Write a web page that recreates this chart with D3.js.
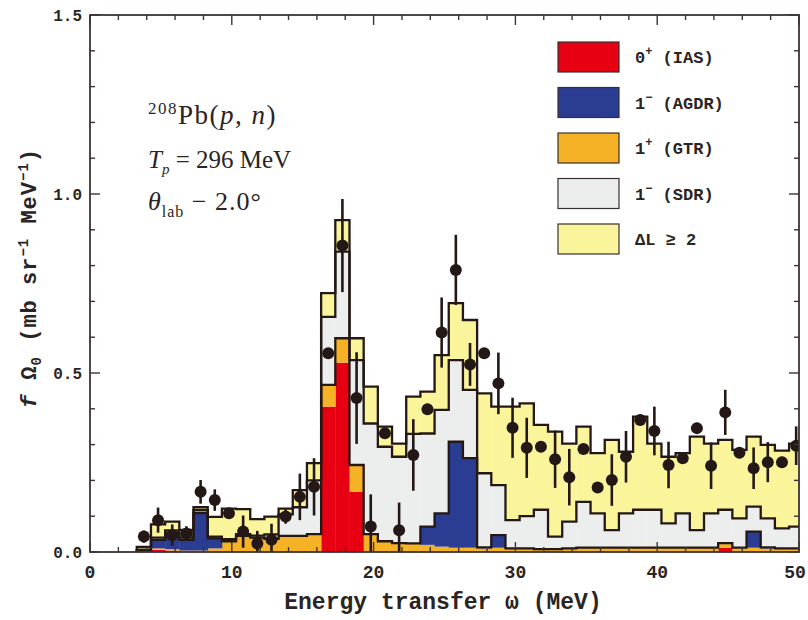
<!DOCTYPE html>
<html>
<head>
<meta charset="utf-8">
<script src="https://cdn.jsdelivr.net/npm/d3@7"></script>
<style>
  body { margin: 0; background: #fff; }
  text { font-family: "Liberation Mono", "DejaVu Sans Mono", monospace; fill: #2a2424; }
  .note { font-family: "Liberation Serif", "DejaVu Serif", serif; }
</style>
</head>
<body>
<script>
// 1 MeV bins, left edges (MeV)
const binStart = [3.3, 4.3, 5.3, 6.3, 7.3, 8.3, 9.3, 10.3, 11.3, 12.3, 13.3, 14.3, 15.3, 16.3, 17.3, 18.3,
  19.3, 20.3, 21.3, 22.3, 23.3, 24.3, 25.3, 26.3, 27.3, 28.3, 29.3, 30.3, 31.3, 32.3, 33.3, 34.3,
  35.3, 36.3, 37.3, 38.3, 39.3, 40.3, 41.3, 42.3, 43.3, 44.3, 45.3, 46.3, 47.3, 48.3, 49.3];

// 各成分 (stacked, bottom to top)
const ias  = [0, 0.006, 0.004, 0, 0, 0, 0, 0, 0, 0, 0, 0, 0, 0.406, 0.529, 0.168,
  0, 0, 0, 0, 0, 0, 0, 0, 0, 0, 0, 0, 0, 0, 0, 0,
  0, 0, 0, 0, 0, 0, 0, 0, 0, 0.012, 0, 0, 0, 0, 0];
const gtr  = [0.004, 0.004, 0.004, 0.004, 0.004, 0.01, 0.03, 0.045, 0.04, 0.037, 0.045, 0.045, 0.05, 0.061, 0.068, 0.075,
  0.05, 0.03, 0.025, 0.024, 0.02, 0.015, 0.012, 0.012, 0.01, 0.012, 0.01, 0.01, 0.008, 0.008, 0.01, 0.012,
  0.012, 0.012, 0.012, 0.012, 0.012, 0.012, 0.012, 0.012, 0.012, 0.013, 0.012, 0.012, 0.01, 0.01, 0.01];
const agdr = [0, 0.024, 0.045, 0.03, 0.105, 0.028, 0, 0, 0, 0, 0, 0, 0, 0, 0, 0,
  0, 0, 0, 0, 0.051, 0.093, 0.296, 0.25, 0.003, 0.035, 0, 0, 0, 0, 0, 0,
  0, 0, 0, 0, 0, 0, 0, 0, 0, 0, 0, 0.045, 0.003, 0, 0];
const sdr  = [0.002, 0.006, 0.007, 0.006, 0.008, 0.005, 0.006, 0.005, 0.006, 0.012, 0.06, 0.08, 0.15, 0.19, 0.242, 0.293,
  0.309, 0.264, 0.241, 0.306, 0.26, 0.289, 0.228, 0.191, 0.207, 0.14, 0.079, 0.09, 0.11, 0.035, 0.075, 0.128,
  0.096, 0.049, 0.096, 0.106, 0.106, 0.068, 0.096, 0.049, 0.096, 0.093, 0.082, 0.07, 0.081, 0.056, 0.061];
const dl2  = [0.008, 0.037, 0.025, 0.022, 0.008, 0.055, 0.085, 0.07, 0.046, 0.05, 0.016, 0.048, 0.048, 0.066, 0.088, 0.061,
  0.103, 0.056, 0.037, 0.104, 0.117, 0.153, 0.159, 0.195, 0.223, 0.219, 0.317, 0.315, 0.237, 0.293, 0.218, 0.21,
  0.168, 0.252, 0.172, 0.26, 0.185, 0.186, 0.168, 0.261, 0.195, 0.195, 0.191, 0.195, 0.205, 0.217, 0.232];

// 实验数据点
const expOmega = [3.8, 4.8, 5.8, 6.8, 7.8, 8.8, 9.8, 10.8, 11.8, 12.8, 13.8, 14.8, 15.8, 16.8, 17.8, 18.8,
  19.8, 20.8, 21.8, 22.8, 23.8, 24.8, 25.8, 26.8, 27.8, 28.8, 29.8, 30.8, 31.8, 32.8, 33.8, 34.8,
  35.8, 36.8, 37.8, 38.8, 39.8, 40.8, 41.8, 42.8, 43.8, 44.8, 45.8, 46.8, 47.8, 48.8, 49.8];
const expVal = [0.043, 0.089, 0.047, 0.052, 0.168, 0.145, 0.108, 0.057, 0.024, 0.034, 0.099, 0.154, 0.182, 0.555, 0.856, 0.43,
  0.071, 0.332, 0.061, 0.271, 0.399, 0.613, 0.788, 0.524, 0.555, 0.471, 0.347, 0.291, 0.294, 0.259, 0.209, 0.288,
  0.18, 0.201, 0.266, 0.369, 0.338, 0.243, 0.262, 0.346, 0.241, 0.39, 0.277, 0.234, 0.251, 0.251, 0.297];
const expErr = [0.017, 0.035, 0.03, 0.02, 0.033, 0.03, 0.012, 0.045, 0.035, 0.045, 0.02, 0.065, 0.08, 0.015, 0.13, 0.128,
  0.09, 0.015, 0.077, 0.1, 0.015, 0.098, 0.098, 0.06, 0.015, 0.086, 0.084, 0.084, 0.015, 0.08, 0.079, 0.015,
  0.015, 0.072, 0.072, 0.015, 0.068, 0.065, 0.015, 0.015, 0.065, 0.063, 0.015, 0.058, 0.056, 0.015, 0.054];

const legendLabels = [["0", "+", " (IAS)"], ["1", "−", " (AGDR)"], ["1", "+", " (GTR)"], ["1", "−", " (SDR)"], ["ΔL ≥ 2", "", ""]];
const colors = ["#e60012", "#f6b226", "#2b3d93", "#eceeee", "#faf59b"];
const legendColors = ["#e60012", "#2b3d93", "#f6b226", "#eceeee", "#faf59b"];
const xTickLabels = [0, 10, 20, 30, 40, 50];
const yTickLabels = [0.0, 0.5, 1.0, 1.5];

const W = 808, H = 620;
const svg = d3.select("body").append("svg").attr("width", W).attr("height", H)
  .style("display", "block");
svg.append("rect").attr("width", W).attr("height", H).attr("fill", "#fff");

const x = d3.scaleLinear().domain([0, 50]).range([90, 799]);
const y = d3.scaleLinear().domain([0, 1.5]).range([552, 15]);
const ink = "#231815";

svg.append("clipPath").attr("id", "plot")
  .append("rect").attr("x", 90).attr("y", 15).attr("width", 709).attr("height", 537);
const g = svg.append("g").attr("clip-path", "url(#plot)");

// 堆叠数据
const rows = binStart.map((s, i) => ({ s, ias: ias[i], gtr: gtr[i], agdr: agdr[i], sdr: sdr[i], dl2: dl2[i] }));
const keys = ["ias", "gtr", "agdr", "sdr", "dl2"];
const stacked = d3.stack().keys(keys)(rows);

stacked.forEach((layer, li) => {
  g.append("g").selectAll("rect").data(layer).enter().append("rect")
    .attr("x", d => x(d.data.s))
    .attr("width", d => x(d.data.s + 1) - x(d.data.s) + 0.4)
    .attr("y", d => y(d[1]))
    .attr("height", d => Math.max(0, y(d[0]) - y(d[1])))
    .attr("fill", colors[li]);
});

// 阶梯线: ias+gtr+agdr, +sdr, total
const stepLine = d3.line().x(d => x(d[0])).y(d => y(d[1])).curve(d3.curveStepAfter);
[2, 3, 4].forEach(li => {
  const layer = stacked[li];
  const pts = [[binStart[0], 0]].concat(layer.map(d => [d.data.s, d[1]]));
  pts.push([50, layer[layer.length - 1][1]]);
  g.append("path").attr("d", stepLine(pts))
    .attr("fill", "none").attr("stroke", ink).attr("stroke-width", 2.3);
});

// 误差棒和点
const pts = expOmega.map((o, i) => ({ o, v: expVal[i], e: expErr[i] }));
g.append("g").selectAll("line").data(pts).enter().append("line")
  .attr("x1", d => x(d.o)).attr("x2", d => x(d.o))
  .attr("y1", d => y(d.v - d.e)).attr("y2", d => y(d.v + d.e))
  .attr("stroke", ink).attr("stroke-width", 2.6);
g.append("g").selectAll("circle").data(pts).enter().append("circle")
  .attr("cx", d => x(d.o)).attr("cy", d => y(d.v)).attr("r", 6)
  .attr("fill", ink);

// 坐标框和刻度
const axisColor = "#3c3434";
svg.append("rect").attr("x", 90).attr("y", 15).attr("width", 709).attr("height", 537)
  .attr("fill", "none").attr("stroke", axisColor).attr("stroke-width", 1.8);

const xMinor = d3.range(0, 51, 2);
const yMinor = d3.range(0, 16, 1).map(d => d / 10);
const ticks = svg.append("g").attr("stroke", axisColor).attr("stroke-width", 1.4);
xMinor.forEach(v => {
  const len = v % 10 === 0 ? 10 : 5;
  ticks.append("line").attr("x1", x(v)).attr("x2", x(v)).attr("y1", 552).attr("y2", 552 - len);
  ticks.append("line").attr("x1", x(v)).attr("x2", x(v)).attr("y1", 15).attr("y2", 15 + len);
});
yMinor.forEach(v => {
  const len = Math.round(v * 10) % 5 === 0 ? 10 : 5;
  ticks.append("line").attr("x1", 90).attr("x2", 90 + len).attr("y1", y(v)).attr("y2", y(v));
  ticks.append("line").attr("x1", 799).attr("x2", 799 - len).attr("y1", y(v)).attr("y2", y(v));
});

svg.append("g").selectAll("text").data(xTickLabels).enter().append("text")
  .attr("x", d => Math.min(x(d), 795)).attr("y", 578).attr("text-anchor", "middle")
  .style("font-size", "18px").style("font-weight", "bold").text(d => d);
svg.append("g").selectAll("text").data(yTickLabels).enter().append("text")
  .attr("x", 82).attr("y", d => y(d) + 6).attr("text-anchor", "end")
  .style("font-size", "16px").style("font-weight", "bold").text(d => d.toFixed(1));

svg.append("text").attr("x", 443).attr("y", 609).attr("text-anchor", "middle")
  .style("font-size", "23px").style("font-weight", "bold").text("Energy transfer ω (MeV)");

const yl = svg.append("text").attr("transform", "translate(36,278) rotate(-90)")
  .attr("text-anchor", "middle").style("font-size", "22px").style("font-weight", "bold")
  .style("letter-spacing", "1px");
yl.append("tspan").style("font-style", "italic").text("f");
yl.append("tspan").text(" Ω");
yl.append("tspan").attr("dy", 5).style("font-size", "14px").text("0");
yl.append("tspan").attr("dy", -5).text(" (mb sr");
yl.append("tspan").attr("dy", -8).style("font-size", "14px").text("−1");
yl.append("tspan").attr("dy", 8).text(" MeV");
yl.append("tspan").attr("dy", -8).style("font-size", "14px").text("−1");
yl.append("tspan").attr("dy", 8).text(")");

// 图例
const leg = svg.append("g");
legendLabels.forEach((lab, i) => {
  const ly = 42 + i * 45.5;
  leg.append("rect").attr("x", 558).attr("y", ly).attr("width", 61).attr("height", 30)
    .attr("fill", legendColors[i]).attr("stroke", "#3a3030").attr("stroke-width", 1.2);
  const t = leg.append("text").attr("x", 635).attr("y", ly + 21)
    .style("font-size", "17px").style("font-weight", "bold");
  t.append("tspan").text(lab[0]);
  if (lab[1]) t.append("tspan").attr("dy", -8).style("font-size", "12px").text(lab[1]);
  if (lab[2]) t.append("tspan").attr("dy", lab[1] ? 8 : 0).text(lab[2]);
});

// 注释
const n1 = svg.append("text").attr("class", "note").attr("x", 148).attr("y", 124)
  .style("font-size", "27px").style("letter-spacing", "1.5px");
n1.append("tspan").attr("dy", -10).style("font-size", "17px").text("208");
n1.append("tspan").attr("dy", 10).text("Pb(");
n1.append("tspan").style("font-style", "italic").text("p");
n1.append("tspan").text(", ");
n1.append("tspan").style("font-style", "italic").text("n");
n1.append("tspan").text(")");

const n2 = svg.append("text").attr("class", "note").attr("x", 148).attr("y", 168).style("font-size", "25px");
n2.append("tspan").style("font-style", "italic").text("T");
n2.append("tspan").attr("dy", 6).style("font-size", "15px").style("font-style", "italic").text("p");
n2.append("tspan").attr("dy", -6).text(" = 296 MeV");

const n3 = svg.append("text").attr("class", "note").attr("x", 148).attr("y", 210)
  .style("font-size", "26px").style("letter-spacing", "1px");
n3.append("tspan").style("font-style", "italic").text("θ");
n3.append("tspan").attr("dy", 7).style("font-size", "16px").text("lab");
n3.append("tspan").attr("dy", -7).text("  − 2.0°");
</script>
</body>
</html>
